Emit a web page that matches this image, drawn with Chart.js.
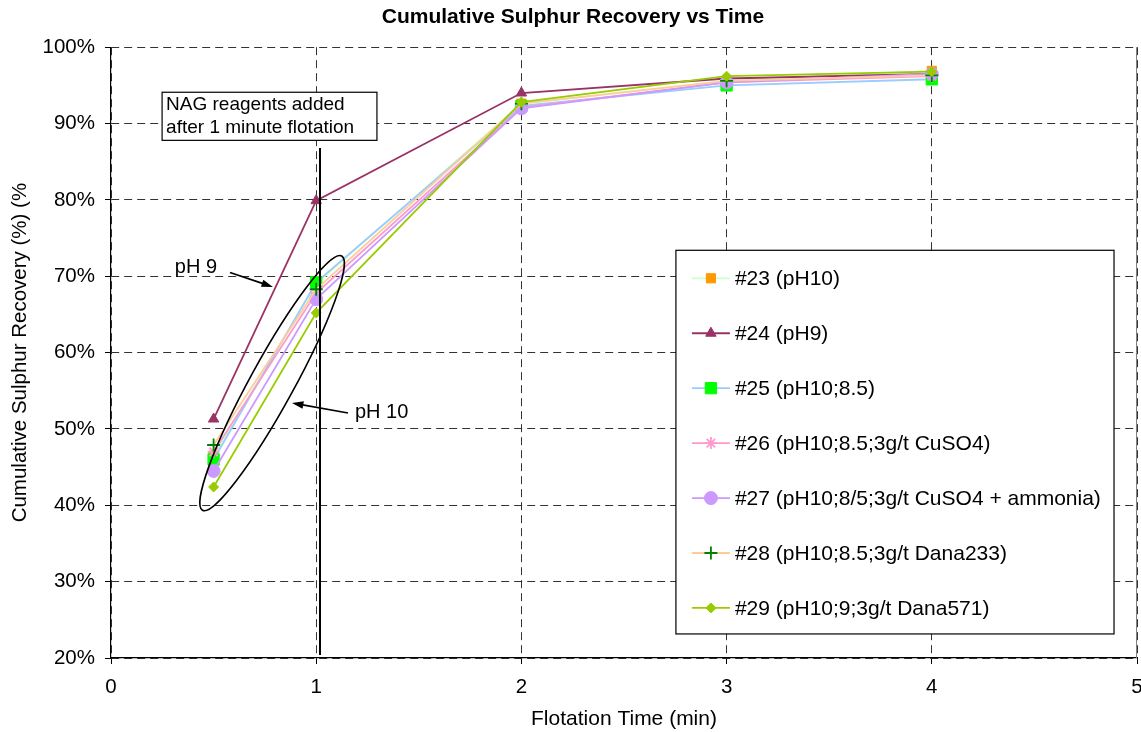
<!DOCTYPE html>
<html>
<head>
<meta charset="utf-8">
<title>Cumulative Sulphur Recovery vs Time</title>
<script src="https://cdn.jsdelivr.net/npm/chart.js@4/dist/chart.umd.min.js"></script>
<style>
    html, body { margin: 0; padding: 0; background: #fff; overflow: hidden; }
    #contenedor { width: 1146px; height: 732px; }
</style>
</head>
<body>
<div id="contenedor"><canvas id="grafica"></canvas></div>
<script>
// tiempos de flotacion (min)
const tiempos = [0.5, 1, 2, 3, 4]

const nombres = [
    "#23 (pH10)",
    "#24 (pH9)",
    "#25 (pH10;8.5)",
    "#26 (pH10;8.5;3g/t CuSO4)",
    "#27 (pH10;8/5;3g/t CuSO4 + ammonia)",
    "#28 (pH10;8.5;3g/t Dana233)",
    "#29 (pH10;9;3g/t Dana571)"
]

// recuperacion acumulada de azufre (%)
const prueba23 = [46.5, 69.0, 92.6, 95.6, 96.9]
const prueba24 = [51.3, 79.9, 94.0, 95.9, 96.5]
const prueba25 = [46.0, 69.2, 92.3, 95.0, 95.8]
const prueba26 = [47.0, 67.8, 92.1, 95.4, 96.2]
const prueba27 = [44.5, 67.0, 92.0, 95.4, 96.5]
const prueba28 = [47.9, 68.3, 92.6, 95.6, 96.3]
const prueba29 = [42.4, 65.2, 92.8, 96.2, 96.8]

const ticksY = [20, 30, 40, 50, 60, 70, 80, 90, 100]
const ticksX = [0, 1, 2, 3, 4, 5]

const fuente = "'Liberation Sans', Arial, sans-serif"

const estilos = [
    { linea: "#ccffcc", marca: "#ff9900", borde: "#ff9900", forma: "rect", radio: 6.5 },
    { linea: "#993366", marca: "#993366", borde: "#993366", forma: "triangle", radio: 6 },
    { linea: "#99ccff", marca: "#00ff00", borde: "#00ff00", forma: "rect", radio: 8 },
    { linea: "#ff99cc", marca: "#ff99cc", borde: "#ff99cc", forma: "star", radio: 6 },
    { linea: "#cc99ff", marca: "#cc99ff", borde: "#cc99ff", forma: "circle", radio: 6.5 },
    { linea: "#ffcc99", marca: "#008000", borde: "#008000", forma: "cross", radio: 6.5 },
    { linea: "#99cc00", marca: "#99cc00", borde: "#99cc00", forma: "rectRot", radio: 5 }
]

const series = [prueba23, prueba24, prueba25, prueba26, prueba27, prueba28, prueba29]

const datasets = series.map((valores, i) => ({
    label: nombres[i],
    data: valores.map((v, j) => ({ x: tiempos[j], y: v })),
    borderColor: estilos[i].linea,
    borderWidth: 1.8,
    pointStyle: estilos[i].forma,
    pointRadius: estilos[i].radio,
    pointBackgroundColor: estilos[i].marca,
    pointBorderColor: estilos[i].borde,
    pointBorderWidth: estilos[i].forma == "cross" || estilos[i].forma == "star" ? 1.8 : 1,
    order: series.length - i,
    tension: 0
}))

// pasa coordenadas de datos a pixeles
function px(chart, x, y) {
    return [chart.scales.x.getPixelForValue(x), chart.scales.y.getPixelForValue(y)]
}

function flecha(ctx, x1, y1, x2, y2) {
    const ang = Math.atan2(y2 - y1, x2 - x1)
    const largo = 12
    ctx.beginPath()
    ctx.moveTo(x1, y1)
    ctx.lineTo(x2 - Math.cos(ang) * 8, y2 - Math.sin(ang) * 8)
    ctx.stroke()
    ctx.beginPath()
    ctx.moveTo(x2, y2)
    ctx.lineTo(x2 - largo * Math.cos(ang - 0.32), y2 - largo * Math.sin(ang - 0.32))
    ctx.lineTo(x2 - largo * Math.cos(ang + 0.32), y2 - largo * Math.sin(ang + 0.32))
    ctx.closePath()
    ctx.fill()
}

const anotaciones = {
    id: "anotaciones",
    afterDatasetsDraw(chart) {
        const ctx = chart.ctx
        const area = chart.chartArea
        ctx.save()

        // borde derecho del area de trazado
        ctx.strokeStyle = "#808080"
        ctx.lineWidth = 1
        ctx.beginPath()
        ctx.moveTo(area.right - 0.5, area.top)
        ctx.lineTo(area.right - 0.5, area.bottom)
        ctx.stroke()

        ctx.strokeStyle = "#000"
        ctx.fillStyle = "#000"

        // linea vertical: reactivos NAG
        let [lx, ly1] = px(chart, 1.0185, 86.8)
        let [, ly2] = px(chart, 1.0185, 20.4)
        ctx.lineWidth = 2
        ctx.beginPath()
        ctx.moveTo(lx, ly1)
        ctx.lineTo(lx, ly2)
        ctx.stroke()

        // cuadro de texto
        const [bx1, by1] = px(chart, 0.249, 94.1)
        const [bx2, by2] = px(chart, 1.296, 87.8)
        ctx.fillStyle = "#fff"
        ctx.fillRect(bx1, by1, bx2 - bx1, by2 - by1)
        ctx.lineWidth = 1.2
        ctx.strokeRect(bx1, by1, bx2 - bx1, by2 - by1)
        ctx.fillStyle = "#000"
        ctx.font = "19px " + fuente
        ctx.textBaseline = "middle"
        ctx.textAlign = "left"
        ctx.fillText("NAG reagents added", bx1 + 4, by1 + 13)
        ctx.fillText("after 1 minute flotation", bx1 + 4, by1 + 36)

        // elipse alrededor de las pruebas a pH 10
        const [ex, ey] = px(chart, 0.785, 56.0)
        ctx.lineWidth = 1.6
        ctx.beginPath()
        ctx.ellipse(ex, ey, 145, 22, -61.3 * Math.PI / 180, 0, Math.PI * 2)
        ctx.stroke()

        // flechas y rotulos
        ctx.lineWidth = 1.6
        let [a1, b1] = px(chart, 0.580, 70.5)
        let [a2, b2] = px(chart, 0.789, 68.6)
        flecha(ctx, a1, b1, a2, b2)
        ;[a1, b1] = px(chart, 1.155, 52.1)
        ;[a2, b2] = px(chart, 0.882, 53.4)
        flecha(ctx, a1, b1, a2, b2)

        ctx.font = "20px " + fuente
        ctx.textAlign = "center"
        let [tx, ty] = px(chart, 0.414, 71.1)
        ctx.fillText("pH 9", tx, ty)
        ctx.textAlign = "left"
        ;[tx, ty] = px(chart, 1.189, 52.1)
        ctx.fillText("pH 10", tx, ty)

        ctx.restore()
    },
    afterDraw(chart) {
        // leyenda dentro del area de trazado
        const ctx = chart.ctx
        const [x1, y1] = px(chart, 2.753, 73.4)
        const [x2, y2] = px(chart, 4.888, 23.15)
        ctx.save()
        ctx.fillStyle = "#fff"
        ctx.fillRect(x1, y1, x2 - x1, y2 - y1)
        ctx.strokeStyle = "#000"
        ctx.lineWidth = 1.2
        ctx.strokeRect(x1, y1, x2 - x1, y2 - y1)

        const paso = (y2 - y1 - 54) / 6
        ctx.font = "21px " + fuente
        ctx.textBaseline = "middle"
        ctx.textAlign = "left"
        chart.data.datasets.forEach((ds, i) => {
            const y = y1 + 28 + paso * i
            ctx.strokeStyle = ds.borderColor
            ctx.lineWidth = ds.borderWidth
            ctx.beginPath()
            ctx.moveTo(x1 + 16, y)
            ctx.lineTo(x1 + 54, y)
            ctx.stroke()
            ctx.fillStyle = ds.pointBackgroundColor
            ctx.strokeStyle = ds.pointBorderColor
            ctx.lineWidth = ds.pointBorderWidth
            Chart.helpers.drawPoint(ctx, { pointStyle: ds.pointStyle, radius: ds.pointRadius, rotation: 0, borderWidth: ds.pointBorderWidth }, x1 + 35, y)
            ctx.fillStyle = "#000"
            ctx.fillText(ds.label, x1 + 59, y + 1)
        })
        ctx.restore()
    }
}

const grafica = new Chart(document.querySelector("#grafica"), {
    type: "line",
    data: { datasets: datasets },
    options: {
        responsive: true,
        maintainAspectRatio: false,
        animation: false,
        layout: { padding: { left: 0, right: 0, top: 0, bottom: 0 } },
        plugins: {
            legend: { display: false },
            tooltip: { enabled: false },
            title: {
                display: true,
                text: "Cumulative Sulphur Recovery vs Time",
                color: "#000",
                font: { family: fuente, size: 21, weight: "bold" },
                padding: { top: 5, bottom: 17 }
            }
        },
        scales: {
            x: {
                type: "linear",
                min: 0,
                max: 5,
                afterBuildTicks: scale => { scale.ticks = ticksX.map(v => ({ value: v })) },
                afterFit: scale => {
                    scale.height = 74
                    scale.paddingLeft = 0
                    scale.paddingRight = 0
                },
                ticks: { color: "#000", padding: 11, font: { family: fuente, size: 20.5 } },
                grid: { color: "#333", lineWidth: 1, tickLength: 6, tickColor: "#000", tickBorderDash: [] },
                border: { color: "#000", width: 1.2, dash: [8, 5] },
                title: {
                    display: true,
                    text: "Flotation Time (min)",
                    color: "#000",
                    font: { family: fuente, size: 21 },
                    padding: { top: 2, bottom: 0 }
                }
            },
            y: {
                min: 20,
                max: 100,
                afterBuildTicks: scale => { scale.ticks = ticksY.map(v => ({ value: v })) },
                afterFit: scale => { scale.width = 111 },
                ticks: {
                    color: "#000",
                    padding: 10,
                    font: { family: fuente, size: 20.5 },
                    callback: v => v + "%"
                },
                grid: { color: "#333", lineWidth: 1, tickLength: 6, tickColor: "#000", tickBorderDash: [] },
                border: { color: "#000", width: 1.2, dash: [8, 5] },
                title: {
                    display: true,
                    text: "Cumulative Sulphur Recovery (%) (%",
                    color: "#000",
                    font: { family: fuente, size: 20.5 },
                    padding: { top: 8, bottom: 0 }
                }
            }
        }
    },
    plugins: [anotaciones]
})
</script>
</body>
</html>
